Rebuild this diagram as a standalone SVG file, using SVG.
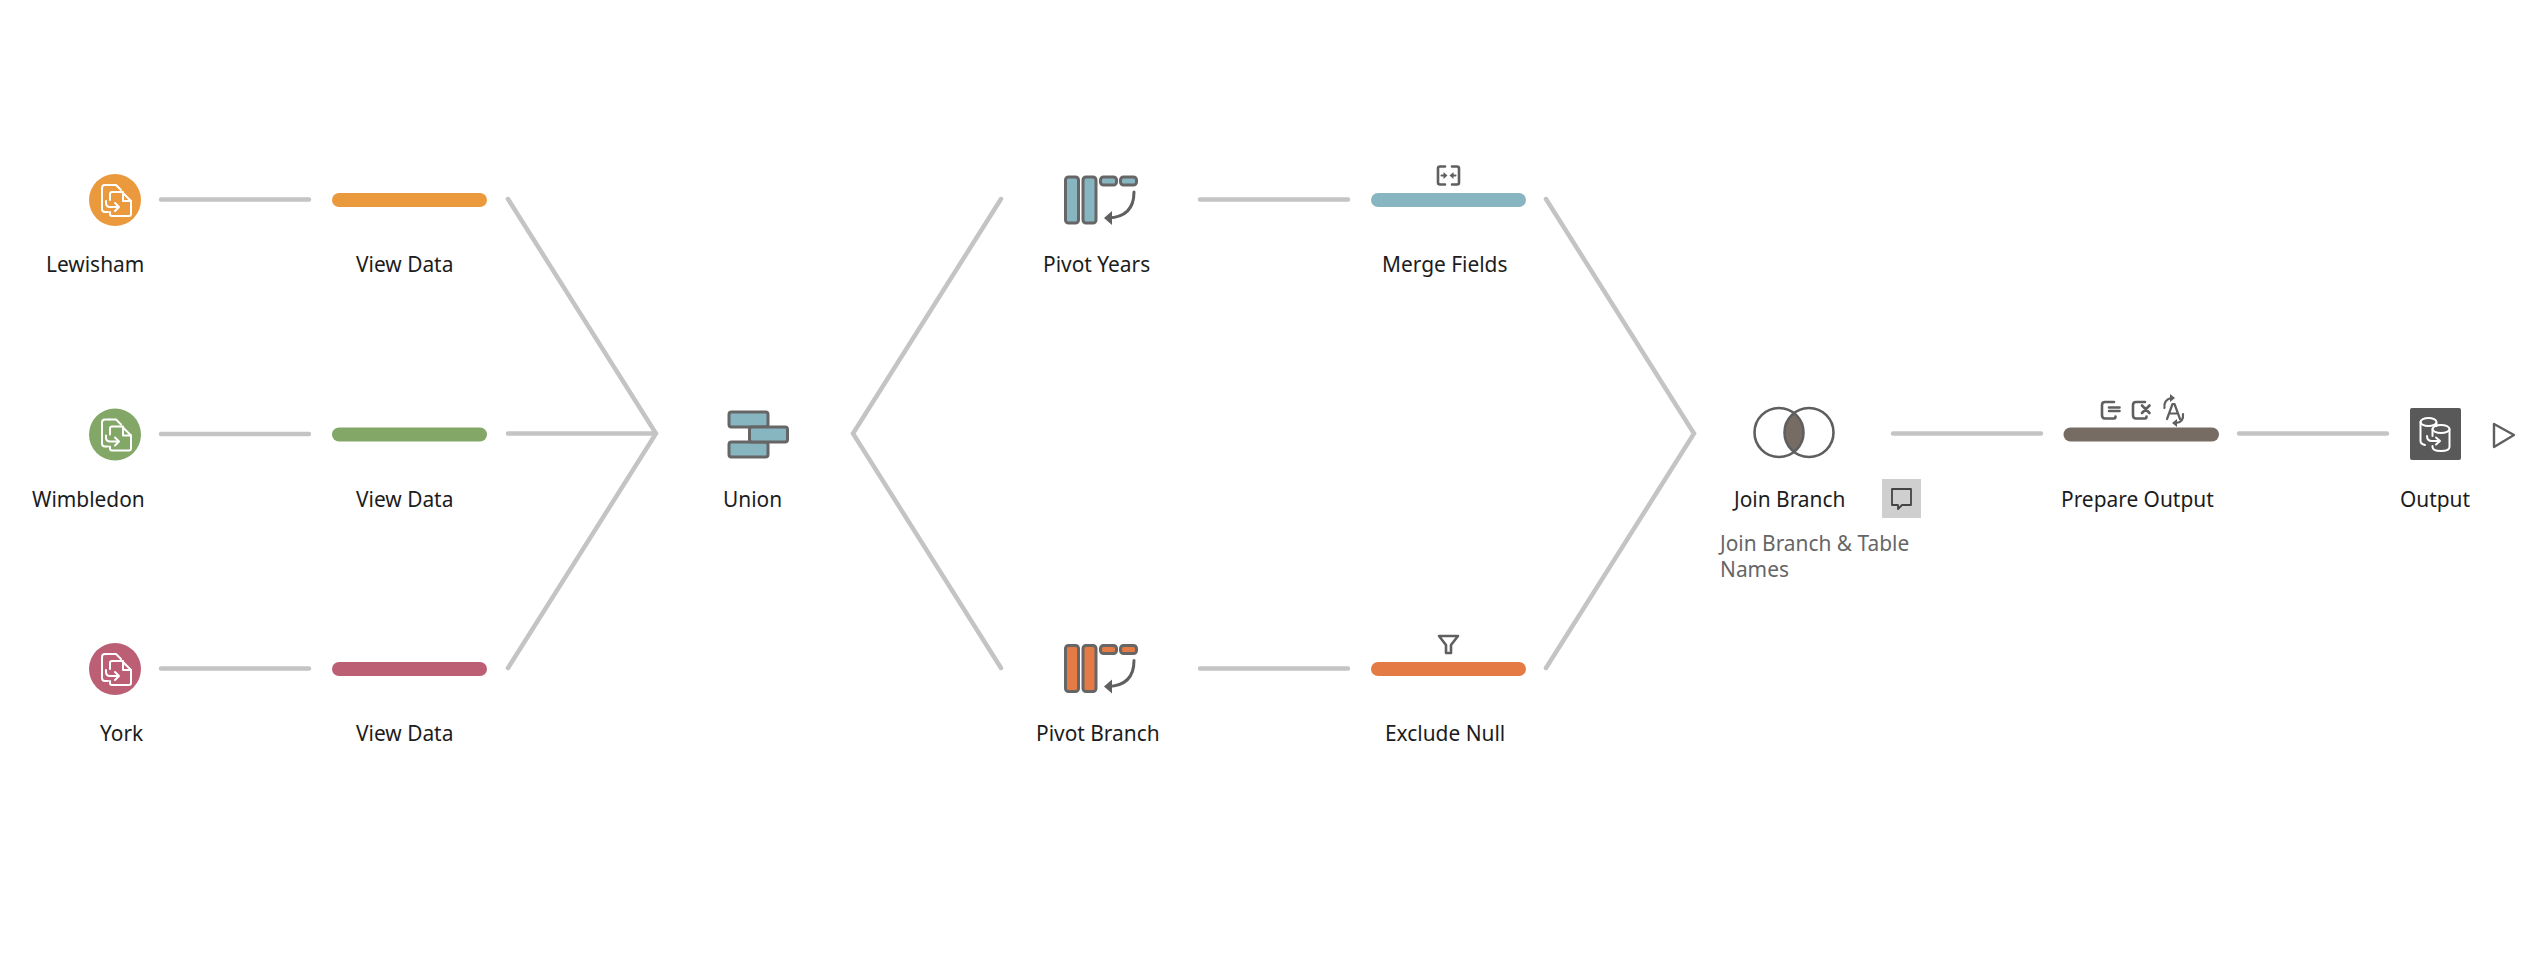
<svg xmlns="http://www.w3.org/2000/svg" width="2534" height="958" viewBox="0 0 2534 958">
<style>
text{font-family:"Noto Sans","Open Sans","Liberation Sans",sans-serif;font-size:20.900px;fill:#1c1c1c}
text.note{fill:#666}
.conn{fill:none;stroke:#c4c4c4;stroke-width:4.500;stroke-linecap:round;stroke-linejoin:miter}
.ic{fill:none;stroke:#5f5f5f;stroke-width:2.600;stroke-linecap:round;stroke-linejoin:round}
.wh{fill:none;stroke:#fff;stroke-width:2;stroke-linecap:round;stroke-linejoin:round}
.box{stroke:#666;stroke-width:3}
</style>
<defs>
<g id="src" class="wh">
<path d="M-6 -15H-10Q-13 -15 -13 -12V9Q-13 12 -10 12H-7"/>
<path d="M-6 -15H1L6 -10"/>
<path d="M-5 -6V-6Q-5 -8 -3 -8H7L16 1V14Q16 16 14 16H-3Q-5 16 -5 14V12"/>
<path d="M-5 -6V0"/>
<path d="M8 -8V1H16"/>
<path d="M-9 1V3Q-9 7 -5 7H3"/>
<path d="M0 3L4 7L0 11"/>
</g>
<g id="srcdb" class="wh">
<ellipse cx="-6.500" cy="-12" rx="8" ry="4"/>
<path d="M-14.500 -12V7Q-14.500 10 -10 11"/>
<path d="M1.500 -11V-8"/>
<ellipse cx="6" cy="-5" rx="8.500" ry="4"/>
<path d="M-2.500 -5V2M14.500 -5V13Q14.500 17 6 17Q-2.500 17 -2.500 13V12"/>
<path d="M-8 2Q-8 7 -3 7H4M1 3.500L5 7L1 10.500"/>
</g>
<g id="pivot">
<rect class="box" x="1065.500" y="0" width="13" height="46" rx="3"/>
<rect class="box" x="1083" y="0" width="13" height="46" rx="3"/>
<rect class="box" x="1100.500" y="0" width="16" height="8" rx="3"/>
<rect class="box" x="1120.500" y="0" width="16" height="8" rx="3"/>
<path class="ic" style="stroke-width:3" d="M1134 15Q1134 40 1108 41"/>
<path d="M1104 41L1112 34V48Z" fill="#5f5f5f"/>
</g>
</defs>

<g id="connectors">
<path class="conn" d="M161 199.500H309M161 434H309M161 668.500H309"/>
<path class="conn" d="M508 199L656 433.500L508 668M508 433.500H656"/>
<path class="conn" d="M1001 199L853 433.500L1001 668"/>
<path class="conn" d="M1200 199.500H1348M1200 668.500H1348"/>
<path class="conn" d="M1546 199L1694 433.500L1546 668"/>
<path class="conn" d="M1893 433.500H2041M2239 433.500H2387"/>
</g>

<g id="lewisham"><circle cx="115" cy="200" r="26" fill="#ea9a3c"/><use href="#src" x="115" y="200"/><text x="46" y="272">Lewisham</text></g>
<g id="wimbledon"><circle cx="115" cy="434.500" r="26" fill="#83a766"/><use href="#src" x="115" y="434.500"/><text x="32" y="507">Wimbledon</text></g>
<g id="york"><circle cx="115" cy="669" r="26" fill="#bc5f74"/><use href="#src" x="115" y="669"/><text x="100" y="741">York</text></g>

<g id="view-data-1"><rect x="332" y="193" width="155" height="14" rx="7" fill="#ea9a3c"/><text x="356" y="272">View Data</text></g>
<g id="view-data-2"><rect x="332" y="427.500" width="155" height="14" rx="7" fill="#83a766"/><text x="356" y="507">View Data</text></g>
<g id="view-data-3"><rect x="332" y="662" width="155" height="14" rx="7" fill="#bc5f74"/><text x="356" y="741">View Data</text></g>

<g id="union" fill="#87b6c1">
<rect class="box" x="729" y="412" width="39" height="15" rx="2.500"/>
<rect class="box" x="729" y="442" width="39" height="15" rx="2.500"/>
<rect class="box" x="749.500" y="427" width="38" height="15" rx="2.500"/>
<text x="723" y="507">Union</text></g>

<g id="pivot-years" fill="#87b6c1"><use href="#pivot" y="177"/><text x="1043" y="272">Pivot Years</text></g>
<g id="merge-fields">
<rect x="1371" y="193" width="155" height="14" rx="7" fill="#87b6c1"/>
<path class="ic" d="M1445 166.500H1440Q1438 166.500 1438 168.500V182.500Q1438 184.500 1440 184.500H1445M1452 166.500H1457Q1459 166.500 1459 168.500V182.500Q1459 184.500 1457 184.500H1452"/>
<path class="ic" style="stroke-width:2" d="M1441.500 175.500H1444M1455.500 175.500H1453"/>
<path d="M1447.500 175.500L1443.500 172V179ZM1449.500 175.500L1453.500 172V179Z" fill="#5f5f5f"/>
<text x="1382" y="272">Merge Fields</text></g>

<g id="pivot-branch" fill="#e47a44"><use href="#pivot" y="645.500"/><text x="1036" y="741">Pivot Branch</text></g>
<g id="exclude-null">
<rect x="1371" y="662" width="155" height="14" rx="7" fill="#e47a44"/>
<path class="ic" d="M1439 636H1458L1451 645V653H1446V645Z"/>
<text x="1385" y="741">Exclude Null</text></g>

<g id="join-branch">
<path d="M1794 413A24.500 24.500 0 0 1 1794 452.500A24.500 24.500 0 0 1 1794 413Z" fill="#766c64"/>
<circle class="ic" cx="1779" cy="432.500" r="24.500"/>
<circle class="ic" cx="1809" cy="432.500" r="24.500"/>
<text x="1734" y="507">Join Branch</text>
<rect x="1882" y="479" width="39" height="39" fill="#cfcfcf"/>
<path d="M1892 489H1911V505H1902L1898 509V505H1892Z" fill="none" stroke="#444" stroke-width="1.800" stroke-linejoin="round"/>
<text class="note" x="1720" y="551">Join Branch &amp; Table</text>
<text class="note" x="1720" y="577">Names</text></g>

<g id="prepare-output">
<rect x="2063.500" y="427.500" width="155.500" height="14" rx="7" fill="#766c64"/>
<path class="ic" d="M2114 402H2105Q2102 402 2102 405V415Q2102 418.500 2105 418.500H2114Q2115.500 418.500 2115.500 416.500M2109 407.500H2119.500M2109 411H2119.500"/>
<path class="ic" d="M2145 402H2136Q2133 402 2133 405V415Q2133 418.500 2136 418.500H2145Q2146.500 418.500 2146.500 416.500M2142 405.500L2149.500 413M2149.500 405.500L2142 413"/>
<path class="ic" style="stroke-width:2.200" d="M2167 419L2172.500 404H2174.500L2180 419M2169.500 413.500H2177.500M2164.500 408Q2163.500 400 2171 398M2183 414Q2184 422 2176 423"/>
<path d="M2170 394L2175 398L2170 402ZM2177 419L2172 423L2177 427Z" fill="#5f5f5f"/>
<text x="2061" y="507">Prepare Output</text></g>

<g id="output">
<rect x="2410" y="408" width="51" height="52" rx="2" fill="#595959"/>
<use href="#srcdb" x="2435" y="434"/>
<path d="M2494 424L2514 435L2494 447Z" fill="none" stroke="#5f5f5f" stroke-width="2.400" stroke-linejoin="round"/>
<text x="2400" y="507">Output</text></g>
</svg>
